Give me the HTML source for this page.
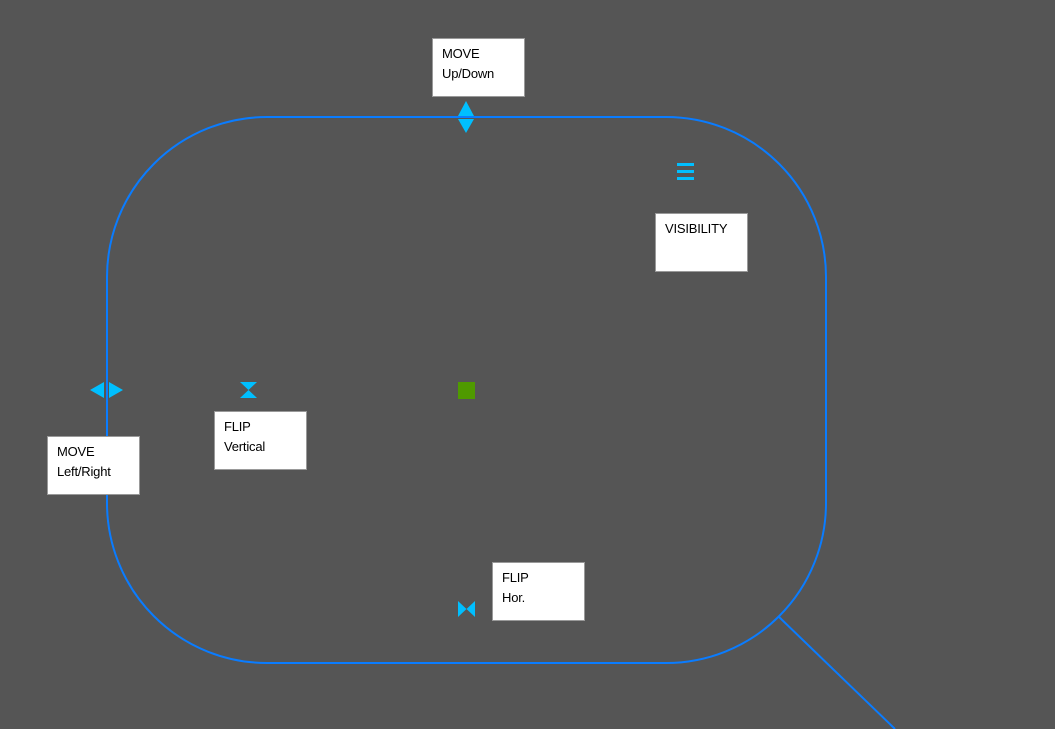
<!DOCTYPE html>
<html><head><style>
html,body{margin:0;padding:0;background:#555555;width:1055px;height:729px;overflow:hidden}
svg{display:block}
text{font-family:"Liberation Sans",sans-serif;font-size:13px;fill:#000;letter-spacing:-0.2px}
</style></head><body>
<svg width="1055" height="729" xmlns="http://www.w3.org/2000/svg">
<rect x="0" y="0" width="1055" height="729" fill="#555555"/>
<rect x="107" y="117" width="719" height="546" rx="160" ry="160" fill="none" stroke="#0a7cff" stroke-width="2"/>
<line x1="778" y1="616" x2="895" y2="729" stroke="#0a7cff" stroke-width="2"/>
<g fill="#00bfff">
<polygon points="466,101 458,116 474,116"/>
<polygon points="458,119 474,119 466,133"/>
<polygon points="90,390 104,382 104,398"/>
<polygon points="109,382 109,398 123,390"/>
<polygon points="240,382 257,382 248.5,390 257,398 240,398 248.5,390"/>
<polygon points="458,601 466.5,609 475,601 475,617 466.5,609 458,617"/>
<rect x="677" y="163" width="17" height="3"/>
<rect x="677" y="170" width="17" height="3"/>
<rect x="677" y="177" width="17" height="3"/>
</g>
<rect x="458" y="382" width="17" height="17" fill="#4f9a00"/>
<g fill="#fff" stroke="#999" stroke-width="1">
<rect x="432.5" y="38.5" width="92" height="58"/>
<rect x="655.5" y="213.5" width="92" height="58"/>
<rect x="214.5" y="411.5" width="92" height="58"/>
<rect x="47.5" y="436.5" width="92" height="58"/>
<rect x="492.5" y="562.5" width="92" height="58"/>
</g>
<text x="442" y="58">MOVE</text><text x="442" y="78">Up/Down</text>
<text x="665" y="233">VISIBILITY</text>
<text x="224" y="431">FLIP</text><text x="224" y="451">Vertical</text>
<text x="57" y="456">MOVE</text><text x="57" y="476">Left/Right</text>
<text x="502" y="582">FLIP</text><text x="502" y="602">Hor.</text>
</svg>
</body></html>
